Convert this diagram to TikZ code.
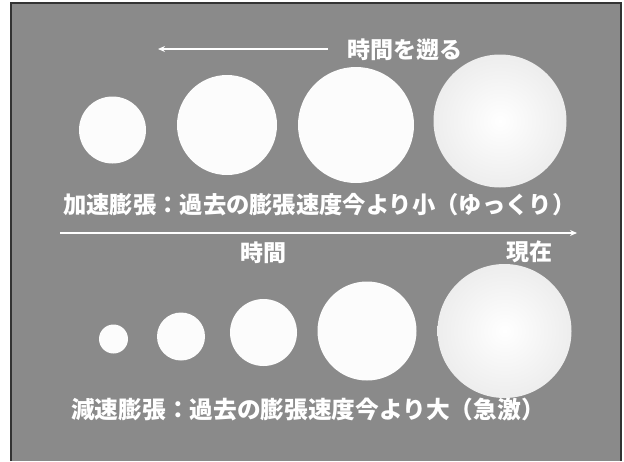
\documentclass[tikz,border=0pt]{standalone}
\usepackage{fontspec}
\newfontfamily\jp{Noto Sans CJK JP}
\usetikzlibrary{arrows.meta}
\definecolor{slidebg}{RGB}{138,138,138}
\definecolor{ballc}{RGB}{252,252,252}
\tikzset{
  ball/.style={circle, fill=ballc, draw=none, inner sep=0pt, minimum size=#1},
  bigball/.style={circle, inner sep=0pt, minimum size=#1, inner color=white, outer color=white!93!black},
  lbl/.style={text=white, font=\jp\bfseries\fontsize{23}{23}\selectfont, inner sep=0pt},
  timearrow/.style={draw=white, line width=1.6pt, -{Stealth[length=7pt,width=6pt]}}
}
\begin{document}
\begin{tikzpicture}[x=1pt,y=-1pt]
\useasboundingbox (0,0) rectangle (624,461);
\fill[white] (0,0) rectangle (624,461);
\fill[slidebg] (11,3) rectangle (621,461);
\draw[black!80, line width=1.5pt] (11,461) -- (11,3) -- (621,3) -- (621,461);

% upper row: accelerated expansion
\node[ball=67pt] (u1) at (112.5,130) {};
\node[ball=100pt] (u2) at (227,125) {};
\node[ball=116pt] (u3) at (356,125) {};
\node[bigball=133pt] (u4) at (500,121) {};

\coordinate (ta) at (328,49);
\coordinate (tb) at (158,49);
\draw[timearrow] (ta) -- (tb);
\node[lbl, anchor=west] (t1) at (347,50) {時間を遡る};

\node[lbl, anchor=west, font=\jp\bfseries\fontsize{23.3}{24}\selectfont] (acc) at (63,205) {加速膨張：過去の膨張速度今より小（ゆっくり）};

\coordinate (ma) at (60,233);
\coordinate (mb) at (577,233);
\draw[timearrow] (ma) -- (mb);
\node[lbl] (jikan) at (263,253) {時間};
\node[lbl] (genzai) at (529,252) {現在};

% lower row: decelerated expansion
\node[ball=29pt] (d1) at (113.5,339) {};
\node[ball=48pt] (d2) at (181,336.5) {};
\node[ball=67pt] (d3) at (263.5,332.5) {};
\node[ball=99pt] (d4) at (367,331) {};
\node[bigball=134pt] (d5) at (504.5,331) {};

\node[lbl, anchor=west, font=\jp\bfseries\fontsize{23.7}{24}\selectfont] (dec) at (71,410) {減速膨張：過去の膨張速度今より大（急激）};
\end{tikzpicture}
\end{document}
